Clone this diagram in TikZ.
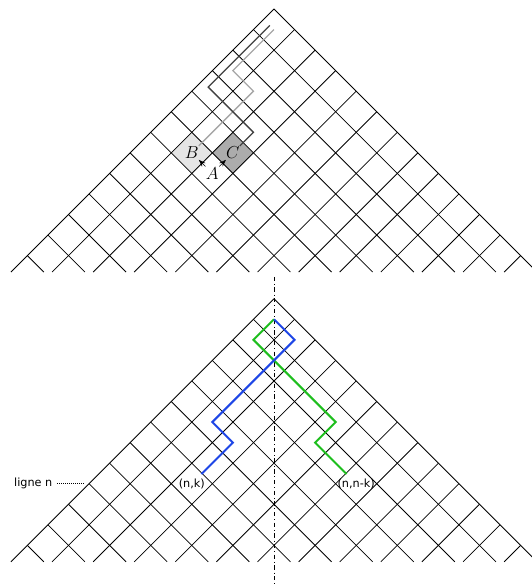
\documentclass[tikz,border=0pt]{standalone}
\usepackage{fontspec}
\newfontfamily\etiqfont{DejaVu Sans}
\usetikzlibrary{arrows.meta,positioning}
\definecolor{bleu}{RGB}{30,70,230}
\definecolor{vert}{RGB}{30,190,30}
\begin{document}
\begin{tikzpicture}[x=0.5cm,y=0.5cm,
  grille/.style={line width=0.55pt},
  chemin/.style={line width=0.9pt},
  lettre/.style={inner sep=0.5pt,font=\fontsize{12}{14}\selectfont},
  etiq/.style={inner sep=3pt,font=\etiqfont\fontsize{7.8}{9}\selectfont},
  >={Stealth[length=5pt,width=3.5pt]}]
\useasboundingbox (-13.333,0.438) rectangle (12.506,-27.98);
\fill[gray!20] (-4,-6) -- (-3,-7) -- (-4,-8) -- (-5,-7) -- cycle;
\fill[gray!65] (-2,-6) -- (-1,-7) -- (-2,-8) -- (-3,-7) -- cycle;
\foreach \d in {0,14.1} {
  \foreach \i in {0,...,12} {
    \draw[grille] (-\i,{-\i-\d}) -- ++({12.8-\i},{\i-12.8});
    \draw[grille] (\i,{-\i-\d}) -- ++({\i-12.8},{\i-12.8});
  }
}
\node[lettre] (B) at (-4,-7) {$B$};
\node[lettre] (C) at (-2,-7) {$C$};
\node[lettre] (A) at (-3,-8) {$A$};
\draw[chemin,black!35] (0,-1) -- (-2,-3) -- (-1,-4) -- (B);
\draw[chemin,black!75] (-0.2,-0.8) -- (-3.2,-3.8) -- (-1,-6) -- (C);
\draw[->] (A) -- (B);
\draw[->] (A) -- (C);
\begin{scope}[shift={(0,-14.1)}]
\coordinate (haut) at (0,1.07);
\coordinate (bas) at (0,-14);
\coordinate (rn) at (-9,-9);
\node[etiq] (nk) at (-4,-9) {(n,k)};
\node[etiq] (nnk) at (4,-9) {(n,n-k)};
\node[etiq,left=0.78cm of rn] (ligne) {ligne n};
\draw[dash dot] (haut) -- (bas);
\draw[densely dotted,shorten >=3.5pt] (ligne) -- (rn);
\draw[chemin,line width=1.4pt,vert] (0,-1) -- (-1,-2) -- (3,-6) -- (2,-7) -- (nnk);
\draw[chemin,line width=1.4pt,bleu] (0,-1) -- (1,-2) -- (-3,-6) -- (-2,-7) -- (nk);
\end{scope}
\end{tikzpicture}
\end{document}
